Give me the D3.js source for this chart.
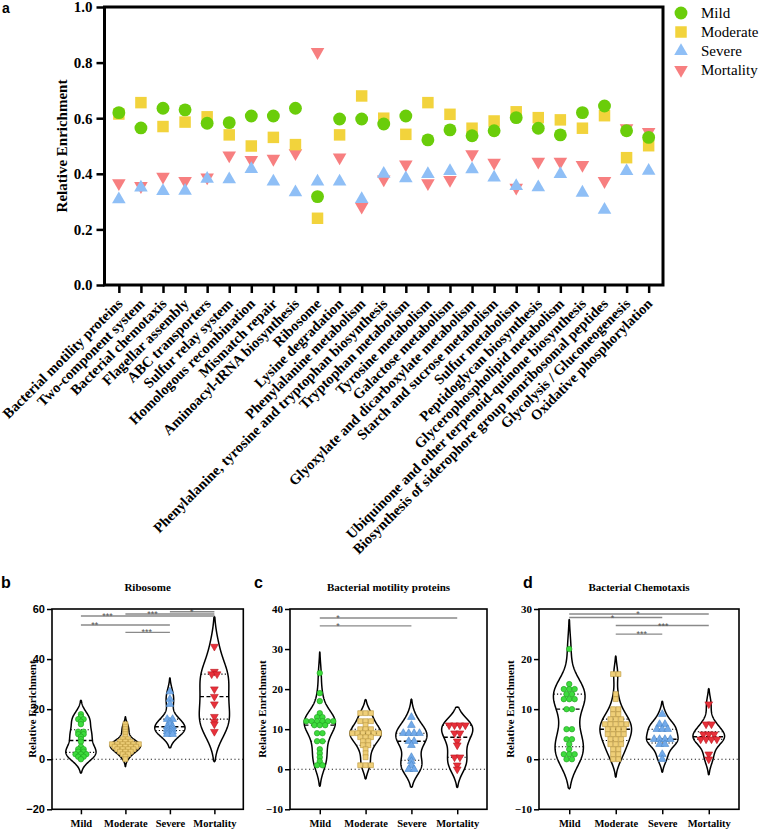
<!DOCTYPE html>
<html><head><meta charset="utf-8">
<script src="https://cdn.jsdelivr.net/npm/d3@7"></script>
<style>body{margin:0;background:#fff}svg{display:block}</style>
</head><body>
<svg id="chart" width="760" height="830"></svg>
<script>
// ---------- Panel a data ----------
const categories = [
 "Bacterial motility proteins","Two-component system","Bacterial chemotaxis","Flagellar assembly",
 "ABC transporters","Sulfur relay system","Homologous recombination","Mismatch repair",
 "Aminoacyl-tRNA biosynthesis","Ribosome","Lysine degradation","Phenylalanine metabolism",
 "Phenylalanine, tyrosine and tryptophan biosynthesis","Tryptophan metabolism","Tyrosine metabolism",
 "Galactose metabolism","Glyoxylate and dicarboxylate metabolism","Starch and sucrose metabolism",
 "Sulfur metabolism","Peptidoglycan biosynthesis","Glycerophospholipid metabolism",
 "Ubiquinone and other terpenoid-quinone biosynthesis",
 "Biosynthesis of siderophore group nonribosomal peptides","Glycolysis / Gluconeogenesis",
 "Oxidative phosphorylation"];
const mild      = [0.620,0.565,0.636,0.630,0.582,0.584,0.608,0.608,0.636,0.318,0.597,0.597,0.579,0.608,0.522,0.558,0.537,0.555,0.602,0.564,0.540,0.620,0.644,0.555,0.531];
const moderate  = [0.615,0.656,0.570,0.586,0.605,0.540,0.500,0.531,0.505,0.240,0.540,0.680,0.600,0.542,0.656,0.614,0.564,0.590,0.623,0.602,0.594,0.564,0.609,0.458,0.501];
const severe    = [0.308,0.350,0.338,0.339,0.382,0.380,0.417,0.372,0.333,0.372,0.372,0.309,0.400,0.384,0.399,0.410,0.416,0.386,0.356,0.351,0.399,0.332,0.270,0.410,0.411];
const mortality = [0.366,0.356,0.390,0.374,0.387,0.466,0.450,0.454,0.474,0.838,0.459,0.282,0.380,0.434,0.366,0.378,0.471,0.440,0.350,0.444,0.444,0.432,0.374,0.564,0.551];
const yTicksA = [0,0.2,0.4,0.6,0.8,1.0];
const groups = ["Mild","Moderate","Severe","Mortality"];

// ---------- Panels b-d data ----------
const riboMild = [18,17,16,16,15,14,11,11,10,10,9,8,7,5,4,4,3,3,2,2,2,1,1,0];
const riboModerate = [14,13,12,11,10,9,8,8,7,7,7,6,6,6,6,6,6,5,5,5,5,5,4,4,4,4,3,3,3,2,2,1,0];
const riboSevere = [27,24,22,16,16,15,14,13,13,12,12,11,11,10,10];
const riboMortality = [45,35,34,34,28,25,22,17,15,14,11];
const motMild = [24,19,17,14,13,13,12,12,12,12,12,12,11,11,11,9,9,7,7,5,4,3,2,1,1];
const motModerate = [14,14,14,12,12,12,11,10,10,10,9,9,9,9,9,9,8,8,8,7,7,6,6,5,4,3,1,1,1];
const motSevere = [13,11,9,9,9,9,7,7,6,3,2,1,0,0];
const motMortality = [11,11,11,11,9,9,7,6,3,3,1,0];
const chemoMild = [22,15,14,14,14,13,13,12,12,12,10,10,6,6,4,4,3,2,1,1,1,0,0];
const chemoModerate = [17,17,13,12,10,10,9,9,8,8,8,7,7,7,7,7,6,6,6,6,5,5,5,5,4,4,4,3,3,3,2,2,1,1,0,0];
const chemoSevere = [9,7,7,6,6,6,4,4,4,4,3,3,1,0];
const chemoMortality = [11,7,7,5,5,5,4,4,4,4,1,0];
const ticksB = [-20,0,20,40,60];
const ticksC = [-10,0,10,20,30,40];
const ticksD = [-10,0,10,20,30];
// significance: [from group, to group, bar level, label, label position (group index units)]
const sigRibo = [[0,3,57.2,"***",0.6],[1,3,58.0,"***",1.61],[2,3,58.9,"*",2.49],[0,2,53.6,"**",0.31],[1,2,50.7,"***",1.48]];
const sigMot = [[0,3,37.75,"*",0.4],[0,2,35.8,"*",0.4]];
const sigChemo = [[0,3,29,"*",1.48],[0,2,28.3,"*",0.93],[1,3,26.7,"***",2.02],[1,2,25,"***",1.56]];

// ---------- drawing ----------
const svg = d3.select("#chart");
const serif = '"Liberation Serif", "Times New Roman", Times, "DejaVu Serif", "Noto Serif", serif';
const sans = '"Liberation Sans", Arial, Helvetica, "DejaVu Sans", sans-serif';

const triDown = {draw(ctx,size){const y=-Math.sqrt(size/(Math.sqrt(3)*3));ctx.moveTo(0,-2*y);ctx.lineTo(-Math.sqrt(3)*y,y);ctx.lineTo(Math.sqrt(3)*y,y);ctx.closePath();}};
const shapes = {Mild:d3.symbolCircle, Moderate:d3.symbolSquare, Severe:d3.symbolTriangle, Mortality:triDown};
function font(sel, fam, size, bold){
  return sel.style("font-family",fam).style("font-size",size+"px").style("font-weight",bold?"bold":"normal");
}

// ===== Panel a =====
const A = {l:104.5, r:663, t:7, b:285};
const xA = d3.scalePoint().domain(categories).range([A.l,A.r]).padding(0.65);
const yA = d3.scaleLinear().domain([0,1]).range([A.b,A.t]);
const gA = svg.append("g");
const seriesA = [
 {name:"Mortality", vals:mortality, color:"#f77f80", size:80},
 {name:"Severe", vals:severe, color:"#8fbff6", size:80},
 {name:"Moderate", vals:moderate, color:"#f2d33c", size:132},
 {name:"Mild", vals:mild, color:"#6acd0a", size:130}
];
seriesA.forEach(s=>{
  gA.append("g").selectAll("path").data(s.vals).join("path")
   .attr("transform",(d,i)=>`translate(${xA(categories[i])},${yA(d)})`)
   .attr("d", d3.symbol().type(shapes[s.name]).size(s.size))
   .attr("fill", s.color);
});
gA.append("rect").attr("x",A.l).attr("y",A.t).attr("width",A.r-A.l).attr("height",A.b-A.t)
  .attr("fill","none").attr("stroke","#000").attr("stroke-width",3);
const axA = gA.append("g").attr("transform",`translate(${A.l},0)`)
  .call(d3.axisLeft(yA).tickValues(yTicksA).tickFormat(d3.format(".1f")).tickSize(8).tickPadding(4));
axA.select(".domain").remove();
axA.selectAll("line").attr("stroke","#000").attr("stroke-width",2.5);
font(axA.selectAll("text"), serif, 15, true).attr("fill","#000");
const axAx = gA.append("g").attr("transform",`translate(0,${A.b})`)
  .call(d3.axisBottom(xA).tickSize(8).tickFormat(""));
axAx.select(".domain").remove();
axAx.selectAll("line").attr("stroke","#000").attr("stroke-width",2.5);
font(gA.append("g").selectAll("text").data(categories).join("text")
  .attr("transform",d=>`translate(${xA(d)+1},301) rotate(-45)`)
  .attr("text-anchor","end").attr("dy","0.35em"), serif, 14.5, true)
  .text(d=>d);
font(gA.append("text").attr("transform",`translate(62,${(A.t+A.b)/2}) rotate(-90)`)
  .attr("text-anchor","middle").attr("dominant-baseline","central"), serif, 15, true).text("Relative Enrichment");
font(svg.append("text").attr("x",2).attr("y",13), sans, 14, true).text("a");
// legend
const legA = svg.append("g");
["Mild","Moderate","Severe","Mortality"].forEach((nm,i)=>{
  const s = seriesA.find(q=>q.name===nm);
  const yy = 13 + i*19;
  legA.append("path").attr("transform",`translate(681,${yy})`)
    .attr("d", d3.symbol().type(shapes[nm]).size(s.size)).attr("fill", s.color);
  font(legA.append("text").attr("x",701).attr("y",yy).attr("dy","0.35em"), serif, 15, false).text(nm);
});

// ===== Violin panels =====
const ptStyle = {
  Mild:{fill:"#3ddb3d", stroke:"#1e9e1e", size:24},
  Moderate:{fill:"#efcf78", stroke:"#b8963c", size:24},
  Severe:{fill:"#72aaea", stroke:"#4a86c8", size:26},
  Mortality:{fill:"#e8303a", stroke:"#b81820", size:26}
};
function violinPanel(o){
  const g = svg.append("g");
  const x = d3.scalePoint().domain(groups).range([o.left,o.right]).padding(0.65);
  const y = d3.scaleLinear().domain(o.domain).range([809.3,609]);
  g.append("line").attr("x1",o.left).attr("x2",o.right).attr("y1",y(0)).attr("y2",y(0))
    .attr("stroke","#222").attr("stroke-width",1.1).attr("stroke-dasharray","1.2,2.6");
  const halfW = x.step()*0.34;
  o.data.forEach((vals,i)=>{
    const grp = groups[i], cx = x(grp);
    const n = vals.length, sd = d3.deviation(vals), bw = 0.9*sd*Math.pow(n,-0.2);
    const dens = t => d3.sum(vals, v => Math.exp(-0.5*((t-v)/bw)**2));
    const lo = d3.min(vals)-2*bw, hi = d3.max(vals)+2*bw;
    const grid = d3.range(161).map(k => lo+(hi-lo)*k/160);
    const dmax = d3.max(grid, dens);
    const w = t => dens(t)/dmax*halfW;
    const pts = grid.map(t => [t, w(t)]);
    pts[0][1] = 0; pts[pts.length-1][1] = 0;
    g.append("path").datum(pts)
      .attr("d", d3.area().y(p=>y(p[0])).x0(p=>cx-p[1]).x1(p=>cx+p[1]))
      .attr("fill","#fff").attr("stroke","#000").attr("stroke-width",1.5).attr("stroke-linejoin","round");
    const sorted = vals.slice().sort(d3.ascending);
    [[0.25,"1.2,2.2"],[0.5,"4,2.5"],[0.75,"1.2,2.2"]].forEach(([p,dash])=>{
      const q = d3.quantile(sorted,p), ww = w(q);
      g.append("line").attr("x1",cx-ww).attr("x2",cx+ww).attr("y1",y(q)).attr("y2",y(q))
        .attr("stroke","#000").attr("stroke-width",p===0.5?1.4:1.1).attr("stroke-dasharray",dash);
    });
    const st = ptStyle[grp];
    const byVal = d3.group(vals, v=>v);
    const placed = [];
    byVal.forEach((arr,v)=>arr.forEach((_,j)=>placed.push([cx+(j-(arr.length-1)/2)*5.4, y(v)])));
    g.append("g").selectAll("path").data(placed).join("path")
      .attr("transform",p=>`translate(${p[0]},${p[1]})`)
      .attr("d", d3.symbol().type(shapes[grp]).size(st.size))
      .attr("fill",st.fill).attr("stroke",st.stroke).attr("stroke-width",0.6);
  });
  // significance
  o.sig.forEach(([a,b,lvl,lab,pos])=>{
    const yy = y(lvl);
    g.append("line").attr("x1",x(groups[a])).attr("x2",x(groups[b])).attr("y1",yy).attr("y2",yy)
      .attr("stroke","#8a8a8a").attr("stroke-width",1.3);
    font(g.append("text").attr("x", x(groups[0]) + pos*x.step()).attr("y", yy+3.2)
      .attr("text-anchor","middle").attr("fill","#555"), sans, 9, false).text(lab);
  });
  // frame and axes
  g.append("rect").attr("x",o.left).attr("y",609).attr("width",o.right-o.left).attr("height",809.3-609)
    .attr("fill","none").attr("stroke","#000").attr("stroke-width",1.6);
  const ay = g.append("g").attr("transform",`translate(${o.left},0)`)
    .call(d3.axisLeft(y).tickValues(o.ticks).tickSize(5).tickPadding(2));
  ay.select(".domain").remove();
  ay.selectAll("line").attr("stroke","#000").attr("stroke-width",1.5);
  font(ay.selectAll("text"), o.tickFont, 11, true).attr("fill","#000");
  const ax = g.append("g").attr("transform",`translate(0,809.3)`)
    .call(d3.axisBottom(x).tickSize(5).tickPadding(5));
  ax.select(".domain").remove();
  ax.selectAll("line").attr("stroke","#000").attr("stroke-width",1.5);
  font(ax.selectAll("text"), serif, 10.5, true).attr("fill","#000");
  font(g.append("text").attr("x",(o.left+o.right)/2).attr("y",591).attr("text-anchor","middle"), serif, 11, true).text(o.title);
  font(g.append("text").attr("transform",`translate(${o.ytx},${(609+809.3)/2}) rotate(-90)`)
    .attr("text-anchor","middle").attr("dominant-baseline","central"), serif, 11, true).text("Relative Enrichment");
  font(svg.append("text").attr("x",o.lx).attr("y",588), sans, 16, true).text(o.label);
}
violinPanel({label:"b", lx:1, title:"Ribosome", left:52, right:243.3, domain:[-20,60], ticks:ticksB, tickFont:sans, ytx:32,
  data:[riboMild,riboModerate,riboSevere,riboMortality], sig:sigRibo});
violinPanel({label:"c", lx:254, title:"Bacterial motility proteins", left:290, right:487, domain:[-10,40], ticks:ticksC, tickFont:serif, ytx:262,
  data:[motMild,motModerate,motSevere,motMortality], sig:sigMot});
violinPanel({label:"d", lx:523, title:"Bacterial Chemotaxis", left:539, right:739, domain:[-10,30], ticks:ticksD, tickFont:serif, ytx:510,
  data:[chemoMild,chemoModerate,chemoSevere,chemoMortality], sig:sigChemo});
</script>
</body></html>
